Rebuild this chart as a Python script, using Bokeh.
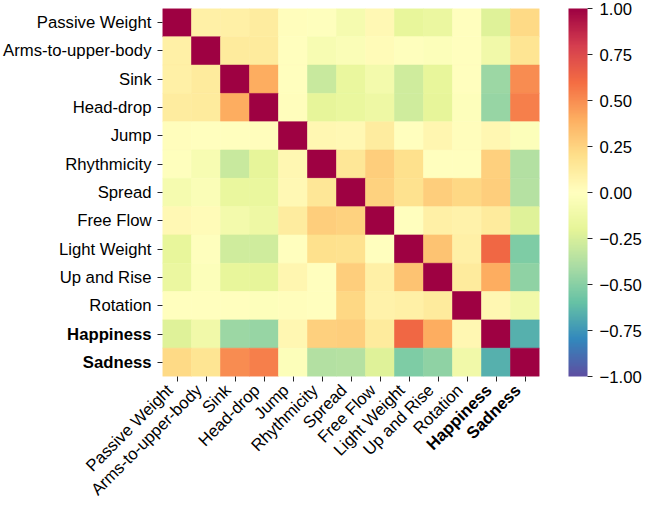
import numpy as np
from bokeh.plotting import figure
from bokeh.models import (LinearColorMapper, ColorBar, FixedTicker,
                          CustomJSTickFormatter, ColumnDataSource, Range1d)
from bokeh.core.properties import value
from bokeh.embed import file_html
from bokeh.resources import INLINE

# ---------------- data ----------------
labels = ["Passive Weight", "Arms-to-upper-body", "Sink", "Head-drop", "Jump",
          "Rhythmicity", "Spread", "Free Flow", "Light Weight", "Up and Rise",
          "Rotation", "Happiness", "Sadness"]
bold_labels = ["Happiness", "Sadness"]

corr = [
    # PW    Arms   Sink   Head   Jump   Rhy    Spr    FF     LW     UR     Rot    Hap    Sad
    [1.00,  0.10,  0.10,  0.12,  0.01, -0.01, -0.08,  0.04, -0.18, -0.16,  0.00, -0.22,  0.22],
    [0.10,  1.00,  0.13,  0.13,  0.00, -0.07, -0.04,  0.03, -0.01, -0.03,  0.00, -0.11,  0.17],
    [0.10,  0.13,  1.00,  0.40,  0.00, -0.30, -0.17, -0.10, -0.28, -0.18,  0.00, -0.44,  0.50],
    [0.12,  0.13,  0.40,  1.00,  0.01, -0.19, -0.17, -0.14, -0.28, -0.19, -0.02, -0.46,  0.54],
    [0.01,  0.00,  0.00,  0.01,  1.00,  0.05,  0.04,  0.12,  0.00,  0.06,  0.01,  0.05, -0.03],
    [-0.01, -0.07, -0.30, -0.19,  0.05,  1.00,  0.15,  0.27,  0.19,  0.00,  0.00,  0.26, -0.37],
    [-0.08, -0.04, -0.17, -0.17,  0.04,  0.15,  1.00,  0.25,  0.18,  0.27,  0.23,  0.27, -0.36],
    [0.04,  0.03, -0.10, -0.14,  0.12,  0.27,  0.25,  1.00,  0.00,  0.10,  0.08,  0.13, -0.22],
    [-0.18, -0.01, -0.28, -0.28,  0.00,  0.19,  0.18,  0.00,  1.00,  0.32,  0.10,  0.62, -0.53],
    [-0.16, -0.03, -0.18, -0.19,  0.06,  0.00,  0.27,  0.10,  0.32,  1.00,  0.13,  0.40, -0.48],
    [0.00,  0.00,  0.00, -0.02,  0.01,  0.00,  0.23,  0.08,  0.10,  0.13,  1.00,  0.05, -0.11],
    [-0.22, -0.11, -0.44, -0.46,  0.05,  0.26,  0.27,  0.13,  0.62,  0.40,  0.05,  1.00, -0.66],
    [0.22,  0.17,  0.50,  0.54, -0.03, -0.37, -0.36, -0.22, -0.53, -0.48, -0.11, -0.66,  1.00],
]

cbar_ticks = [-1.0, -0.75, -0.5, -0.25, 0.0, 0.25, 0.5, 0.75, 1.0]

# ---------------- style ----------------
FONT = "Liberation Sans"
FS = "16.7px"
TICK_COLOR = "#262626"
spectral = ["#5e4fa2", "#3288bd", "#66c2a5", "#abdda4", "#e6f598", "#ffffbf",
            "#fee08b", "#fdae61", "#f46d43", "#d53e4f", "#9e0142"]


def interp_palette(pal, m=256):
    rgb = np.array([[int(c[k:k + 2], 16) for k in (1, 3, 5)] for c in pal], float)
    t = np.linspace(0, 1, len(pal))
    tt = np.linspace(0, 1, m)
    out = np.stack([np.interp(tt, t, rgb[:, k]) for k in range(3)], axis=1)
    return ["#%02x%02x%02x" % tuple(int(round(v)) for v in row) for row in out]


palette = interp_palette(spectral)
mapper = LinearColorMapper(palette=palette, low=-1, high=1)

n = len(labels)
xs, ys, vs = [], [], []
for i in range(n):
    for j in range(n):
        xs.append(j)
        ys.append(n - 1 - i)
        vs.append(corr[i][j])
src = ColumnDataSource(dict(x=xs, y=ys, v=vs))

FW = 377
FH = 368
p = figure(frame_width=FW, frame_height=FH,
           x_range=Range1d(-0.5, n - 0.5), y_range=Range1d(-0.5, n - 0.5),
           output_backend="svg", toolbar_location=None,
           min_border_left=159, min_border_top=8, min_border_right=107,
           min_border_bottom=124)
p.outline_line_color = None
p.grid.visible = False

p.rect(x="x", y="y", width=1, height=1, source=src,
       fill_color={"field": "v", "transform": mapper},
       line_color={"field": "v", "transform": mapper}, line_width=0.6)

TICK_OUT = 5
STANDOFF = 6
for ax in (p.xaxis[0], p.yaxis[0]):
    ax.ticker = FixedTicker(ticks=list(range(n)))
    ax.axis_line_color = None
    ax.major_tick_in = 0
    ax.major_tick_out = TICK_OUT
    ax.major_tick_line_color = TICK_COLOR
    ax.minor_tick_line_color = None
    ax.major_label_text_font = FONT
    ax.major_label_text_font_size = FS
    ax.major_label_text_color = "black"
    ax.major_label_standoff = STANDOFF

# y axis: normal labels from the axis, bold ones as text
p.yaxis[0].major_label_overrides = {
    k: ("" if labels[n - 1 - k] in bold_labels else labels[n - 1 - k]) for k in range(n)}
# x axis: labels drawn as rotated text (matplotlib-like anchoring)
p.xaxis[0].major_label_overrides = {j: "" for j in range(n)}

bidx = [labels.index(b) for b in bold_labels]
nidx = [j for j in range(n) if labels[j] not in bold_labels]

p.text(x=[-0.5] * len(bidx), y=[n - 1 - k for k in bidx], text=bold_labels,
       x_offset=-(TICK_OUT + STANDOFF), text_align="right", text_baseline="middle",
       text_font=value(FONT), text_font_size=FS, text_font_style="bold",
       text_color="black", level="overlay")

for idx, style in ((nidx, "normal"), (bidx, "bold")):
    p.text(x=idx, y=[-0.5] * len(idx), text=[labels[j] for j in idx],
           x_offset=-7, y_offset=11, angle=np.pi / 4,
           text_align="right", text_baseline="middle",
           text_font=value(FONT), text_font_size=FS, text_font_style=style,
           text_color="black", level="overlay")

cb = ColorBar(color_mapper=mapper, location=(FW + 29, 0), width=19, height=FH,
              padding=0, margin=0,
              ticker=FixedTicker(ticks=cbar_ticks),
              formatter=CustomJSTickFormatter(
                  code="return (tick < 0 ? '\\u2212' : '') + Math.abs(tick).toFixed(2);"),
              major_tick_in=0, major_tick_out=5, major_tick_line_color=TICK_COLOR,
              minor_tick_line_color=None,
              major_label_text_font=FONT, major_label_text_font_size=FS,
              major_label_text_color="black", label_standoff=7,
              bar_line_color=None, background_fill_color=None,
              border_line_color=None)
p.add_layout(cb)

open("out.html", "w").write(file_html(p, INLINE))
